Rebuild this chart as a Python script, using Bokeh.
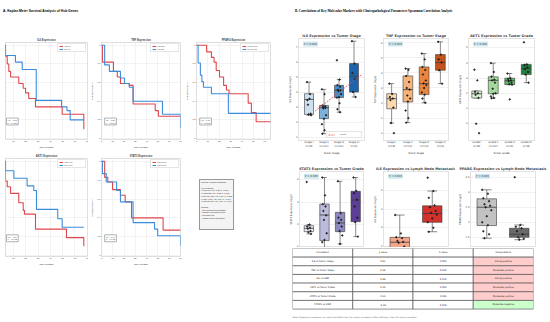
from bokeh.plotting import figure
from bokeh.layouts import row, column
from bokeh.models import Div, Label, Range1d, FixedTicker
from bokeh.embed import file_html
from bokeh.resources import INLINE
from bokeh.core.properties import value

RED = "#e0474c"
BLUE = "#3b8ddb"
KMF = "Liberation Sans"
BXF = "DejaVu Sans"

# ---------------- Kaplan-Meier data ----------------
km_xticks = [0, 10, 20, 30, 40, 50, 60, 70]
km_yticks = [0.0, 0.2, 0.4, 0.6, 0.8, 1.0]

il6_hi_t = [0, 3.5, 4.9, 6.2, 7.6, 14.3, 17.9, 19.8, 22.4, 27.9, 49.6, 67.2]
il6_hi_s = [1.0, 0.88, 0.80, 0.72, 0.66, 0.59, 0.54, 0.49, 0.43, 0.34, 0.26, 0.10]
il6_lo_t = [0, 3.5, 11.6, 17.1, 28.5, 49.1, 53.5, 56.1, 67.2]
il6_lo_s = [1.0, 0.89, 0.82, 0.74, 0.41, 0.34, 0.30, 0.20, 0.20]

tnf_hi_t = [0, 0.8, 10.6, 14.0, 16.8, 24.6, 28.0, 47.6, 50.4, 70.0]
tnf_hi_s = [1.0, 0.82, 0.72, 0.66, 0.59, 0.57, 0.37, 0.30, 0.24, 0.24]
tnf_lo_t = [0, 2.8, 7.0, 16.8, 20.4, 24.6, 28.0, 54.0, 70.0]
tnf_lo_s = [1.0, 0.79, 0.72, 0.65, 0.59, 0.55, 0.40, 0.26, 0.11]

pparg_hi_t = [0, 8.9, 13.1, 15.4, 17.3, 20.2, 23.8, 26.3, 28.6, 45.4, 48.2, 52.4, 66.0]
pparg_hi_s = [1.0, 0.93, 0.87, 0.82, 0.73, 0.66, 0.57, 0.52, 0.48, 0.38, 0.28, 0.18, 0.18]
pparg_lo_t = [0, 1.4, 3.4, 4.7, 6.1, 13.1, 28.0, 66.0]
pparg_lo_s = [1.0, 0.81, 0.68, 0.61, 0.55, 0.48, 0.27, 0.27]

akt1_hi_t = [0, 3.5, 4.9, 7.6, 14.3, 17.9, 18.9, 27.9, 53.1, 67.2]
akt1_hi_s = [1.0, 0.79, 0.73, 0.66, 0.56, 0.48, 0.44, 0.28, 0.19, 0.10]
akt1_lo_t = [0, 3.5, 10.3, 21.1, 26.5, 28.7, 46.0, 49.6, 67.2]
akt1_lo_s = [1.0, 0.90, 0.82, 0.74, 0.69, 0.49, 0.39, 0.30, 0.30]

stat3_hi_t = [0, 2.8, 5.6, 9.8, 16.8, 21.0, 26.6, 54.6, 70.0]
stat3_hi_s = [1.0, 0.83, 0.78, 0.70, 0.64, 0.57, 0.40, 0.27, 0.27]
stat3_lo_t = [0, 0.8, 4.2, 13.4, 16.8, 28.0, 47.0, 49.8, 70.0]
stat3_lo_s = [1.0, 0.87, 0.78, 0.69, 0.57, 0.35, 0.28, 0.21, 0.105]

hr_texts = {"IL6": "HR = 1.32\nP = 0.0156", "TNF": "HR = 1.28\nP = 0.0342",
            "PPARG": "HR = 0.65\nP = 0.0081", "AKT1": "HR = 1.24\nP = 0.0412",
            "STAT3": "HR = 1.19\nP = 0.0487"}

summary_lines = ["Survival Analysis Summary:", "", "Key Findings:",
                 "\u2022 High IL6: HR=1.32, P=0.016", "\u2022 High TNF: HR=1.28, P=0.034",
                 "\u2022 Low PPARG: HR=1.54, P=0.008", "\u2022 High AKT1: HR=1.24, P=0.041",
                 "\u2022 High STAT3: HR=1.19, P=0.049", "", "Method:",
                 "- Cox proportional hazards", "- Median expression cutoff",
                 "- Log-rank test", "- Kaplan-Meier estimation"]

# ---------------- Box plot data ----------------
stage_labels = ["Stage I\n(n=8)", "Stage II\n(n=12)", "Stage III\n(n=13)", "Stage IV\n(n=6)"]
grade_labels = ["Grade I\n(n=8)", "Grade II\n(n=12)", "Grade III\n(n=9)", "Grade IV\n(n=8)"]

il6s_q1 = [2.55, 2.27, 3.67, 4.04]; il6s_med = [3.55, 3.0, 4.15, 5.09]; il6s_q3 = [3.93, 3.15, 4.49, 5.93]
il6s_lo = [2.5, 1.27, 2.7, 3.71]; il6s_hi = [4.7, 4.22, 4.87, 7.42]
il6s_pts = [[4.7, 3.6, 3.5, 3.9, 3.2, 2.6, 2.55, 2.5],
            [4.22, 3.9, 3.15, 3.1, 3.05, 3.0, 2.95, 2.5, 2.27, 1.9, 1.5, 1.27],
            [6.15, 4.87, 4.5, 4.4, 4.2, 4.15, 4.1, 3.9, 3.7, 3.67, 3.3, 2.9, 2.7],
            [7.42, 5.93, 5.3, 4.9, 4.04, 3.71]]
il6_trend_x = [0.4, 3.54]
il6_trend_y = [2.77, 5.22]

tnf_q1 = [1.62, 2.07, 2.56, 4.18]; tnf_med = [2.29, 2.89, 3.29, 4.69]; tnf_q3 = [2.62, 3.8, 4.4, 5.22]
tnf_lo = [0.67, 0.7, 2.02, 3.29]; tnf_hi = [3.29, 4.29, 5.29, 6.07]
tnf_pts = [[3.29, 2.6, 2.4, 2.3, 2.2, 1.7, 0.67, 0.0],
           [4.29, 4.2, 3.8, 3.4, 3.0, 2.9, 2.5, 2.3, 2.1, 1.5, 1.0, 0.7],
           [5.29, 4.9, 4.4, 4.2, 3.9, 3.5, 3.3, 3.2, 3.0, 2.7, 2.56, 2.3, 2.02],
           [6.07, 5.22, 4.9, 4.7, 4.18, 3.29]]

akt_q1 = [1.69, 1.97, 2.57, 3.23]; akt_med = [1.97, 2.85, 2.83, 3.63]; akt_q3 = [2.15, 3.08, 2.99, 3.9]
akt_lo = [1.69, 1.68, 2.57, 2.7]; akt_hi = [2.15, 3.98, 3.3, 3.9]
akt_pts = [[3.55, 2.85, 2.1, 2.0, 1.9, 1.7, 0.0, -0.62],
           [3.98, 3.4, 3.1, 2.9, 2.85, 2.7, 2.3, 2.0, 1.97, 1.8, 1.7, 1.68],
           [3.3, 3.0, 2.95, 2.85, 2.8, 2.7, 2.6, 2.57, 1.6],
           [5.35, 3.9, 3.85, 3.7, 3.6, 3.4, 3.23, 2.7]]

st3_q1 = [1.67, 1.27, 1.67, 2.12]; st3_med = [1.82, 2.42, 2.06, 3.09]; st3_q3 = [1.94, 2.91, 2.54, 3.48]
st3_lo = [1.57, 0.5, 1.12, 1.45]; st3_hi = [1.99, 4.1, 3.93, 4.1]
st3_pts = [[3.9, 1.99, 1.9, 1.85, 1.8, 1.7, 1.65, 1.57],
           [4.1, 3.3, 2.9, 2.8, 2.6, 2.4, 2.2, 1.6, 1.3, 1.2, 0.8, 0.5],
           [3.93, 2.5, 2.3, 2.2, 2.06, 1.9, 1.7, 1.5, 1.12],
           [4.1, 3.5, 3.4, 3.1, 2.8, 2.3, 2.1, 1.45]]

il6n_q1 = [1.6, 3.29]; il6n_med = [2.23, 3.76]; il6n_q3 = [2.49, 4.17]
il6n_lo = [1.0, 2.79]; il6n_hi = [3.68, 4.96]
il6n_pts = [[3.68, 2.7, 2.5, 2.45, 2.3, 2.25, 2.2, 2.0, 1.8, 1.6],
            [5.67, 4.96, 4.6, 4.2, 4.1, 3.9, 3.8, 3.7, 3.5, 3.3, 3.0, 2.79]]

ppn_q1 = [1.89, 1.5]; ppn_med = [2.5, 1.6]; ppn_q3 = [2.78, 1.8]
ppn_lo = [1.47, 1.42]; ppn_hi = [3.08, 1.91]
ppn_pts = [[3.08, 2.95, 2.8, 2.7, 2.6, 2.55, 2.5, 2.4, 2.2, 2.0, 1.9, 1.7, 1.6, 1.47],
           [3.5, 1.91, 1.85, 1.8, 1.7, 1.6, 1.5, 1.45, 1.42]]

# ---------------- Table data ----------------
tbl_header = ["Correlation", "\u03c1 value", "P value", "Interpretation"]
tbl_corr = ["IL6 vs Tumor Stage", "TNF vs Tumor Stage", "IL6 vs LNM", "AKT1 vs Tumor Grade",
            "STAT3 vs Tumor Grade", "PPARG vs LNM"]
tbl_rho = ["0.61", "0.38", "0.66", "0.35", "0.32", "-0.36"]
tbl_p = ["0.003", "0.020", "0.010", "0.005", "0.095", "0.020"]
tbl_interp = ["Strong positive", "Moderate positive", "Strong positive", "Moderate positive",
              "Moderate positive", "Moderate negative"]
note_text = ("Note: Expression correlations (\u03c1) use Kruskal-Wallis test (for ordinal variables) "
             "or Mann-Whitney U test (for binary variables)")


def style_axes(p, fs, font):
    for ax in p.axis:
        ax.major_tick_line_color = None
        ax.minor_tick_line_color = None
        ax.major_tick_out = 0
        ax.major_tick_in = 0
        ax.axis_line_color = None
        ax.major_label_text_font_size = fs
        ax.axis_label_text_font_size = fs
        ax.major_label_text_font = font
        ax.axis_label_text_font = font
        ax.major_label_text_color = "#333333"
        ax.axis_label_text_color = "#222222"
        ax.major_label_standoff = 1
        ax.axis_label_standoff = 1
        ax.axis_label_text_font_style = "normal"


def km_fig(width, height, lb, rb, tb, bb, xr, gene, hi_t, hi_s, lo_t, lo_s, show_y, hr_x):
    p = figure(width=width, height=height, x_range=Range1d(*xr), y_range=Range1d(-0.01, 1.03),
               output_backend="svg", toolbar_location=None,
               min_border_left=lb, min_border_right=rb, min_border_top=tb, min_border_bottom=bb)
    p.title.text = f"{gene} Expression"
    p.title.align = "center"
    p.title.text_font = KMF
    p.title.text_font_size = "2.6px"
    p.title.standoff = 2
    p.title.text_font_style = "bold"
    p.step(hi_t, hi_s, mode="after", color=RED, line_width=1.1, legend_label=f"High {gene}")
    p.step(lo_t, lo_s, mode="after", color=BLUE, line_width=1.1, legend_label=f"Low {gene}")
    p.xaxis.ticker = FixedTicker(ticks=km_xticks)
    p.xgrid.ticker = FixedTicker(ticks=km_xticks)
    p.yaxis.ticker = FixedTicker(ticks=km_yticks)
    p.ygrid.ticker = FixedTicker(ticks=km_yticks)
    p.xaxis.axis_label = "Time (Months)"
    p.yaxis.axis_label = "Survival Probability"
    style_axes(p, "2.2px", KMF)
    p.yaxis.visible = show_y
    p.grid.grid_line_color = "#e6e6e6"
    p.grid.grid_line_width = 0.5
    p.outline_line_color = "#c8c8c8"
    p.outline_line_width = 0.6
    lg = p.legend[0]
    lg.location = "top_right"
    lg.label_text_font_size = "1.8px"
    lg.label_text_font = KMF
    lg.glyph_width = 4
    lg.glyph_height = 2
    lg.label_height = 2
    lg.label_standoff = 1
    lg.spacing = 1
    lg.padding = 1
    lg.margin = 1
    lg.border_line_color = "#cccccc"
    lg.border_line_width = 0.5
    p.add_layout(Label(x=hr_x, y=0.22, text=hr_texts[gene], text_font=KMF, text_font_size="2px",
                       text_baseline="top", border_line_color="#666666", border_line_width=0.5,
                       background_fill_color="white", padding=1))
    return p


def box_fig(width, height, lb, rb, tb, bb, xr, yr, title, ylabel, xlabels, xlabel, yticks,
            q1, med, q3, lo, hi, pts, colors, ptxt, show_x):
    p = figure(width=width, height=height, x_range=Range1d(*xr), y_range=Range1d(*yr),
               output_backend="svg", toolbar_location=None,
               x_axis_location="below" if show_x else None,
               min_border_left=lb, min_border_right=rb, min_border_top=tb, min_border_bottom=bb)
    p.title.text = title
    p.title.align = "center"
    p.title.text_font = BXF
    p.title.text_font_size = "3.4px"
    p.title.text_font_style = "bold"
    p.title.standoff = 1
    n = len(q1)
    xs = list(range(n))
    ec = "#3c3c3c"
    p.segment(x0=xs, y0=q3, x1=xs, y1=hi, line_color=ec, line_width=0.6)
    p.segment(x0=xs, y0=lo, x1=xs, y1=q1, line_color=ec, line_width=0.6)
    p.segment(x0=[x - 0.15 for x in xs], y0=hi, x1=[x + 0.15 for x in xs], y1=hi, line_color=ec, line_width=0.6)
    p.segment(x0=[x - 0.15 for x in xs], y0=lo, x1=[x + 0.15 for x in xs], y1=lo, line_color=ec, line_width=0.6)
    p.vbar(x=xs, bottom=q1, top=q3, width=0.6, fill_color=colors, line_color=ec, line_width=0.6)
    p.segment(x0=[x - 0.3 for x in xs], y0=med, x1=[x + 0.3 for x in xs], y1=med, line_color=ec, line_width=0.8)
    px, py = [], []
    for i, vals in enumerate(pts):
        for j, v in enumerate(vals):
            px.append(i + ((j * 5) % 9 - 4) * 0.035)
            py.append(v)
    p.scatter(px, py, size=1.4, color="#1a1a1a", alpha=0.85)
    if show_x:
        p.xaxis.ticker = FixedTicker(ticks=xs)
        p.xaxis.major_label_overrides = {i: lab for i, lab in enumerate(xlabels)}
        p.xaxis.axis_label = xlabel
    p.yaxis.ticker = FixedTicker(ticks=yticks)
    p.ygrid.ticker = FixedTicker(ticks=yticks)
    p.yaxis.axis_label = ylabel
    style_axes(p, "2.5px", BXF)
    p.xgrid.visible = False
    p.ygrid.grid_line_color = "#e3e3e3"
    p.ygrid.grid_line_width = 0.5
    p.outline_line_color = "#cfcfcf"
    p.outline_line_width = 0.6
    p.add_layout(Label(x=xr[0] + 0.07 * (xr[1] - xr[0]), y=yr[1] - 0.03 * (yr[1] - yr[0]), text=ptxt,
                       text_font=BXF, text_font_size="2.6px", text_baseline="top", text_color="#333333",
                       background_fill_color="#add8e6", background_fill_alpha=0.6, padding=1))
    return p


# ---------------- Left panel ----------------
divA = Div(text=f'<div style="font-family:{KMF};font-size:3.3px;font-weight:bold;padding:3px 0 0 3px;">'
                'A. Kaplan Meier Survival Analysis of Hub Genes</div>', width=275, height=30, margin=0)

k1 = km_fig(88, 120, 5, 1, 12, 10, (3.5, 70.2), "IL6", il6_hi_t, il6_hi_s, il6_lo_t, il6_lo_s, False, 4.3)
k2 = km_fig(95, 120, 9, 3, 12, 10, (0, 70), "TNF", tnf_hi_t, tnf_hi_s, tnf_lo_t, tnf_lo_s, True, 2.8)
k3 = km_fig(92, 120, 10, 5, 12, 10, (0, 65), "PPARG", pparg_hi_t, pparg_hi_s, pparg_lo_t, pparg_lo_s, True, 2.8)
k4 = km_fig(88, 118, 5, 1, 8, 12, (3.5, 70.2), "AKT1", akt1_hi_t, akt1_hi_s, akt1_lo_t, akt1_lo_s, False, 4.3)
k5 = km_fig(95, 118, 9, 3, 8, 12, (0, 70), "STAT3", stat3_hi_t, stat3_hi_s, stat3_lo_t, stat3_lo_s, True, 2.8)

summary_html = ('<div style="margin:29px 0 0 16px;width:35px;height:51px;border:0.5px solid #999;'
                f'background:#f4f4f4;font-family:{KMF};font-size:2.1px;line-height:2.75px;'
                'padding:1px;white-space:pre;color:#222;">' + "\n".join(summary_lines) + '</div>')
summary = Div(text=summary_html, width=92, height=118, margin=0)

left_col = column(divA, row(k1, k2, k3), row(k4, k5, summary))

# ---------------- Right panel ----------------
divB = Div(text='<div style="font-family:Liberation Serif;font-size:3.3px;font-weight:bold;padding:3px 0 0 20px;">'
                'B. Correlations of Key Molecular Markers with Clinicopathological Parameters '
                'Spearman Correlation Analysis</div>', width=275, height=30, margin=0)

blues = ["#cddff0", "#7eb1d8", "#4a90c8", "#1f64aa"]
oranges = ["#fdd8b0", "#f7b47a", "#e9853f", "#c4521a"]
greens = ["#d8efd2", "#a3d99c", "#5db566", "#1f7f3e"]
purples = ["#ece9f4", "#bcbbdc", "#8d88c0", "#5d3f98"]

b1 = box_fig(95, 130, 23, 6, 8, 20, (-0.7, 3.7), (0.82, 7.6), "IL6 Expression vs Tumor Stage",
             "IL6 Expression (log2)", stage_labels, "Tumor Stage", [1, 2, 3, 4, 5, 6, 7],
             il6s_q1, il6s_med, il6s_q3, il6s_lo, il6s_hi, il6s_pts, blues, "P = 0.003", True)
b1.line(il6_trend_x, il6_trend_y, line_color="#e34a4a", line_dash="2 1", line_width=0.8, legend_label="Trend")
b1.legend.location = "bottom_right"
b1.legend.label_text_font_size = "2.4px"
b1.legend.glyph_width = 7
b1.legend.glyph_height = 3
b1.legend.label_height = 3
b1.legend.padding = 1
b1.legend.margin = 2
b1.legend.border_line_color = "#cccccc"

b2 = box_fig(85, 130, 13, 7, 8, 20, (-0.5, 3.5), (-0.49, 6.29), "TNF Expression vs Tumor Stage",
             "TNF Expression (log2)", stage_labels, "Tumor Stage", [0, 1, 2, 3, 4, 5, 6],
             tnf_q1, tnf_med, tnf_q3, tnf_lo, tnf_hi, tnf_pts, oranges, "P = 0.020", True)
b3 = box_fig(95, 130, 13, 16, 8, 20, (-0.5, 3.5), (-1.1, 5.6), "AKT1 Expression vs Tumor Grade",
             "AKT1 Expression (log2)", grade_labels, "Tumor Grade", [0, 1, 2, 3, 4, 5],
             akt_q1, akt_med, akt_q3, akt_lo, akt_hi, akt_pts, greens, "P = 0.005", True)

b4 = box_fig(95, 87, 24, 7, 11, 0, (-0.6, 3.5), (0.96, 4.37), "STAT3 Expression vs Tumor Grade",
             "STAT3 Expression (log2)", grade_labels, "Tumor Grade", [1, 2, 3, 4],
             st3_q1, st3_med, st3_q3, st3_lo, st3_hi, st3_pts, purples, "P = 0.095", False)
b5 = box_fig(85, 87, 13, 7, 11, 0, (-0.5, 1.5), (1.95, 6.0), "IL6 Expression vs Lymph Node Metastasis",
             "IL6 Expression (log2)", ["No", "Yes"], "Lymph Node Metastasis", [2, 3, 4, 5],
             il6n_q1, il6n_med, il6n_q3, il6n_lo, il6n_hi, il6n_pts, ["#f4a68a", "#d3322c"], "P = 0.010", False)
b6 = box_fig(95, 87, 12, 15, 11, 0, (-0.5, 1.5), (1.16, 3.69), "PPARG Expression vs Lymph Node Metastasis",
             "PPARG Expression (log2)", ["No", "Yes"], "Lymph Node Metastasis", [1.5, 2.0, 2.5, 3.0, 3.5],
             ppn_q1, ppn_med, ppn_q3, ppn_lo, ppn_hi, ppn_pts, ["#c2c2c2", "#6a6a6a"], "P = 0.020", False)

# table
tp = figure(width=275, height=75, x_range=Range1d(0, 4), y_range=Range1d(8.55, 0),
            output_backend="svg", toolbar_location=None, x_axis_location=None, y_axis_location=None,
            min_border_left=17, min_border_right=17, min_border_top=1, min_border_bottom=0)
tp.grid.visible = False
tp.outline_line_color = None
cx, cy, cf, ct = [], [], [], []
rows_all = [tbl_header] + [[a, b, c, d] for a, b, c, d in zip(tbl_corr, tbl_rho, tbl_p, tbl_interp)]
for r, vals in enumerate(rows_all):
    for c, t in enumerate(vals):
        cx.append(c + 0.5)
        cy.append(r + 0.5)
        ct.append(t)
        if r > 0 and c == 3:
            cf.append("#ffcccc" if "positive" in t else "#ccffcc")
        else:
            cf.append("white")
tp.rect(x=cx, y=cy, width=1, height=1, fill_color=cf, line_color="#444444", line_width=0.6)
tp.text(x=cx, y=cy, text=ct, text_align="center", text_baseline="middle", text_font=value(BXF),
        text_font_size="2.3px", text_color="#222222")
tp.text(x=[0], y=[7.9], text=[note_text], text_align="left", text_baseline="middle",
        text_font=value(BXF), text_font_size="2px", text_color="#555555")

right_col = column(divB, row(b1, b2, b3), row(b4, b5, b6), tp)

root = row(left_col, right_col)

open("out.html", "w").write(file_html(root, INLINE))
